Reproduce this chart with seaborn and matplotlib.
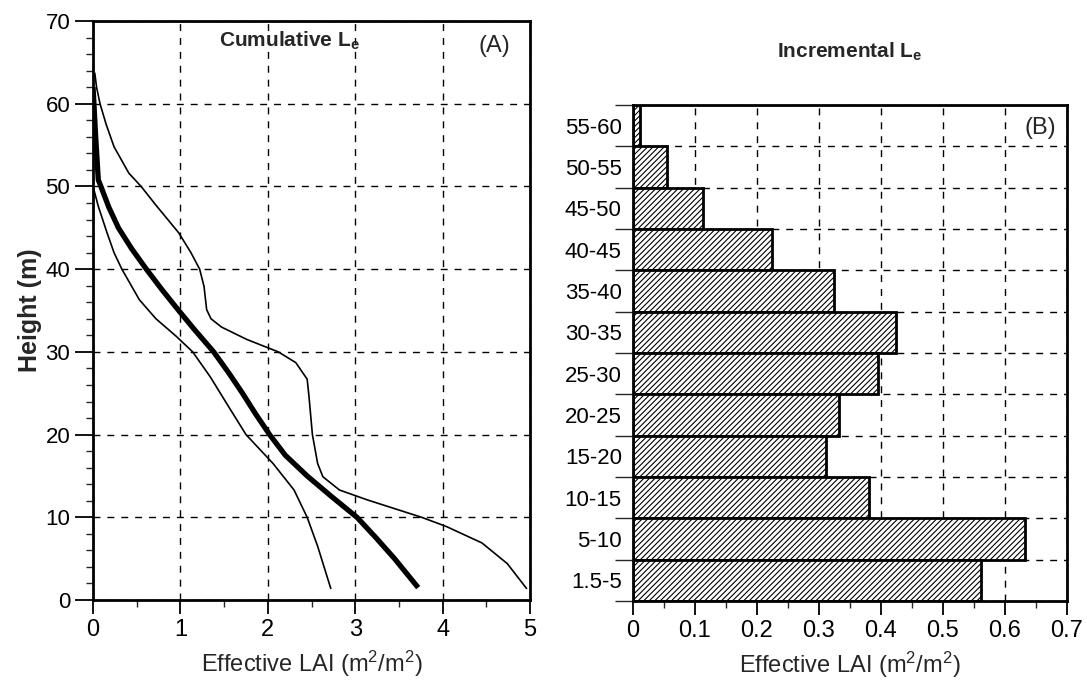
import numpy as np
import pandas as pd
import matplotlib
matplotlib.use('Agg')
import matplotlib.pyplot as plt
from matplotlib.ticker import MultipleLocator, FixedLocator
import seaborn as sns

sns.set_style('ticks')
plt.rcParams['font.family'] = ['Liberation Sans', 'DejaVu Sans']
plt.rcParams['mathtext.fontset'] = 'custom'
plt.rcParams['mathtext.rm'] = 'Liberation Sans'
plt.rcParams['mathtext.bf'] = 'Liberation Sans:bold'
plt.rcParams['mathtext.default'] = 'regular'
plt.rcParams['hatch.linewidth'] = 0.8

# panel A: cumulative effective LAI profiles (LAI, height)
mean_h = [62.0, 56.0, 50.8, 50.0, 47.5, 45.0, 42.5, 40.0, 37.5, 35.0, 32.7,
          30.0, 27.5, 25.0, 22.5, 20.0, 17.5, 15.0, 12.5, 10.0, 7.5, 5.0, 1.5]
mean_lai = [0.0, 0.03, 0.06, 0.09, 0.18, 0.29, 0.44, 0.61, 0.79, 0.98, 1.16,
            1.38, 1.55, 1.71, 1.86, 2.02, 2.2, 2.45, 2.73, 3.02, 3.24, 3.45,
            3.72]

max_h = [63.7, 62.0, 60.0, 57.5, 54.8, 51.6, 50.0, 47.6, 44.4, 42.0, 40.0,
         37.9, 35.1, 34.0, 33.0, 31.5, 30.0, 28.7, 26.7, 24.7, 20.0, 16.5,
         14.9, 13.3, 12.1, 10.0, 8.9, 6.9, 4.4, 1.4]
max_lai = [0.02, 0.04, 0.08, 0.15, 0.24, 0.41, 0.55, 0.73, 0.98, 1.12, 1.22,
           1.27, 1.3, 1.35, 1.47, 1.76, 2.12, 2.32, 2.45, 2.47, 2.51, 2.57,
           2.63, 2.82, 3.14, 3.76, 4.04, 4.45, 4.74, 4.96]

min_h = [49.6, 47.6, 44.4, 42.0, 40.0, 36.3, 34.0, 31.9, 30.0, 27.0, 23.4,
         20.0, 16.5, 13.3, 10.0, 6.5, 1.4]
min_lai = [0.01, 0.06, 0.16, 0.24, 0.33, 0.53, 0.72, 0.95, 1.14, 1.34, 1.55,
           1.75, 2.06, 2.3, 2.45, 2.57, 2.72]

# panel B: incremental effective LAI per height class
classes = ['55-60', '50-55', '45-50', '40-45', '35-40', '30-35', '25-30',
           '20-25', '15-20', '10-15', '5-10', '1.5-5']
incr_lai = [0.012, 0.055, 0.113, 0.225, 0.325, 0.425, 0.395, 0.332, 0.311,
            0.381, 0.632, 0.561]

fig = plt.figure(figsize=(10.87, 6.87), dpi=100)
axA = fig.add_axes([0.0856, 0.1266, 0.4020, 0.8428])
axB = fig.add_axes([0.5823, 0.1252, 0.3993, 0.7220])

dash = (0, (5, 5))

# ---- panel A
sns.lineplot(x=max_lai, y=max_h, sort=False, color='black', lw=1.2, ax=axA)
sns.lineplot(x=min_lai, y=min_h, sort=False, color='black', lw=1.2, ax=axA)
sns.lineplot(x=mean_lai, y=mean_h, sort=False, color='black', lw=3.8, ax=axA,
             solid_capstyle='butt')
axA.set_xlim(0, 5)
axA.set_ylim(0, 70)
axA.xaxis.set_major_locator(MultipleLocator(1))
axA.xaxis.set_minor_locator(MultipleLocator(0.5))
axA.yaxis.set_major_locator(MultipleLocator(10))
axA.yaxis.set_minor_locator(MultipleLocator(2))
axA.grid(True, which='major', color='black', ls=dash, lw=1)
axA.set_xlabel(r'Effective LAI (m$^2$/m$^2$)', fontsize=17, labelpad=6)
axA.set_ylabel('Height (m)', fontsize=18, fontweight='bold', labelpad=2)
axA.text(0.45, 0.985, r'Cumulative L$_\mathbf{e}$', transform=axA.transAxes,
         ha='center', va='top', fontsize=15, fontweight='bold')
axA.text(0.955, 0.975, '(A)', transform=axA.transAxes, ha='right', va='top',
         fontsize=17)

# ---- panel B
df = pd.DataFrame({'cls': classes, 'lai': incr_lai})
sns.barplot(data=df, x='lai', y='cls', orient='h', width=1.0, color='white',
            edgecolor='black', linewidth=2, ax=axB)
for p in axB.patches:
    p.set_hatch('//////')
axB.set_xlim(0, 0.7)
axB.set_ylim(len(classes) - 0.5, -0.5)
axB.xaxis.set_major_locator(MultipleLocator(0.1))
axB.xaxis.set_minor_locator(MultipleLocator(0.05))
axB.yaxis.set_minor_locator(FixedLocator(np.arange(-0.5, len(classes), 1)))
axB.xaxis.set_major_formatter(plt.FuncFormatter(lambda v, _: f'{v:g}'))
axB.set_axisbelow(True)
axB.grid(True, axis='x', which='major', color='black', ls=dash, lw=1)
axB.grid(True, axis='y', which='minor', color='black', ls=dash, lw=1)
axB.set_xlabel(r'Effective LAI (m$^2$/m$^2$)', fontsize=17, labelpad=6)
axB.set_ylabel('')
axB.set_title(r'Incremental L$_\mathbf{e}$', fontsize=15, fontweight='bold',
              pad=34)
axB.text(0.975, 0.975, '(B)', transform=axB.transAxes, ha='right', va='top',
         fontsize=17)

for ax in (axA, axB):
    for s in ax.spines.values():
        s.set_visible(True)
        s.set_linewidth(2)
        s.set_color('black')
    ax.tick_params(which='major', direction='out', length=10, width=1.3,
                   labelsize=17, colors='black')
    ax.tick_params(which='minor', direction='out', length=5, width=1.0)
axA.tick_params(axis='y', which='major', length=13, labelsize=16)
axB.tick_params(axis='y', which='major', length=0, labelsize=16, pad=8)
axB.tick_params(axis='y', which='minor', length=13)

fig.savefig('out.png', dpi=100)
